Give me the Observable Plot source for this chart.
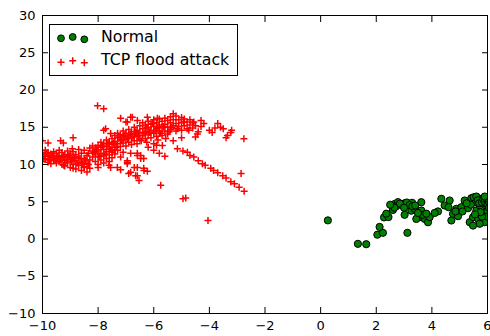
<!DOCTYPE html>
<html>
<head>
<meta charset="utf-8">
<script src="https://cdn.jsdelivr.net/npm/d3@7"></script>
<script src="https://cdn.jsdelivr.net/npm/@observablehq/plot@0.6"></script>
<style>
  html, body { margin: 0; padding: 0; background: white; }
  #wrap { position: relative; width: 490px; height: 336px; overflow: hidden; }
  #legend { position: absolute; left: 49px; top: 24px; width: 189px; height: 52px;
            border: 1px solid black; background: white; box-sizing: border-box;
            font-family: "DejaVu Sans", sans-serif; font-size: 15.8px; }
  #legend svg { position: absolute; left: 0; top: 0; }
  #legend .lab { position: absolute; left: 51px; white-space: nowrap; line-height: 1; }
</style>
</head>
<body>
<div id="wrap">
  <div id="chart"></div>
  <div id="legend">
    <svg width="40" height="50">
      <circle cx="11" cy="13.3" r="3.4" fill="#008000" stroke="black" stroke-width="1"/>
      <circle cx="22.7" cy="12" r="3.4" fill="#008000" stroke="black" stroke-width="1"/>
      <circle cx="34.3" cy="14.3" r="3.4" fill="#008000" stroke="black" stroke-width="1"/>
      <path d="M7.5,37.3h7M11,33.8v7M19.2,35.7h7M22.7,32.2v7M30.8,37.7h7M34.3,34.2v7" stroke="red" stroke-width="1.5" fill="none"/>
    </svg>
    <div class="lab" style="top:4px">Normal</div>
    <div class="lab" style="top:27px">TCP flood attack</div>
  </div>
</div>
<script>
const seriesNames = ["Normal", "TCP flood attack"];
const xTicks = [-10, -8, -6, -4, -2, 0, 2, 4, 6];
const yTicks = [-10, -5, 0, 5, 10, 15, 20, 25, 30];

const normal = [
  [0.26,2.5],[1.34,-0.65],[1.64,-0.7],[2.04,0.58],[2.24,0.83],[2.12,1.62],[3.12,0.83],
  [2.28,2.9],[2.44,2.95],[2.36,3.4],[2.6,3.9],[2.66,4.7],[2.78,4.95],[2.9,4.6],[2.96,4.5],
  [3.02,4.8],[3.1,4.9],[3.29,4.86],[3.2,4.55],[2.72,4.4],[2.85,4.75],[3.02,3.25],[3.26,3.8],
  [3.38,4.05],[3.62,4.94],[3.62,3.83],[3.56,2.93],[3.74,2.7],[3.86,2.25],[3.92,2.93],[3.44,2.7],
  [3.68,3.25],[3.5,3.5],[3.8,3.4],[4.22,3.7],[4.34,5.4],[4.46,4.5],[4.64,5.17],[4.6,4.27],
  [4.7,2.48],[4.76,3.38],[4.94,3.06],[4.88,4.05],[5.06,4.27],[5.18,5.17],[5.3,4.13],[5.36,2.26],
  [5.42,5.48],[5.54,4.94],[5.6,3.83],[5.48,2.93],[5.66,2.7],[5.72,4.5],[5.78,5.4],[5.84,3.38],
  [5.9,2.26],[5.96,4.27],[5.72,2.04],[5.48,1.8],[5.5,5.6],[5.6,5.7],[5.65,5.2],[5.7,4.8],
  [5.8,4.9],[5.85,5.3],[5.9,5.0],[5.95,5.5],[6.0,4.6],[6.0,3.8],[6.0,3.0],[5.8,3.0],[5.75,3.6],
  [5.55,3.3],[5.4,4.6],[5.25,4.8],[4.85,3.7],[4.1,3.5],[3.3,4.4],[2.65,4.2],[2.5,4.6],[3.0,4.2],
  [3.4,4.5],[5.9,5.7],[6.05,5.0],[6.05,4.2],[5.1,3.7]
];

const tcpFlood = [
  // dense left band
  [-10.0,11.0],[-10.0,11.6],[-10.0,10.4],[-9.9,11.3],[-9.9,10.7],[-9.9,11.9],[-9.8,11.1],[-9.8,10.3],
  [-9.8,11.6],[-9.7,10.9],[-9.7,11.4],[-9.7,10.1],[-9.6,11.7],[-9.6,10.6],[-9.6,11.1],[-9.5,10.2],
  [-9.5,11.5],[-9.5,10.8],[-9.4,11.9],[-9.4,10.4],[-9.4,11.2],[-9.3,10.0],[-9.3,10.9],[-9.3,11.6],
  [-9.2,10.5],[-9.2,11.3],[-9.2,9.8],[-9.1,11.8],[-9.1,10.2],[-9.1,11.0],[-9.0,10.7],[-9.0,9.6],
  [-9.0,11.4],[-8.9,10.0],[-8.9,11.7],[-8.9,10.9],[-8.8,9.4],[-8.8,10.5],[-8.8,11.3],[-8.7,9.9],
  [-8.7,11.0],[-8.7,12.0],[-8.6,9.2],[-8.6,10.3],[-8.6,11.5],[-8.5,9.7],[-8.5,10.8],[-8.5,11.9],
  [-8.4,9.0],[-8.4,10.1],[-8.4,11.2],[-8.3,9.5],[-8.3,10.6],[-8.3,12.2],
  [-9.95,10.8],[-9.85,11.5],[-9.75,10.6],[-9.65,11.2],[-9.55,10.5],[-9.45,11.0],[-9.35,10.6],
  [-9.25,11.1],[-9.15,10.6],[-9.05,11.2],[-8.95,10.4],[-8.85,11.0],[-8.75,10.2],[-8.65,10.8],
  [-8.55,10.1],[-8.45,10.6],[-8.35,11.5],[-8.35,10.0],
  [-9.24,9.9],[-8.9,9.5],[-8.5,9.6],[-8.0,9.6],
  // isolated left points
  [-10.0,13.2],[-9.8,12.9],[-9.35,13.2],[-9.25,12.9],[-8.9,13.6],[-8.93,12.1],
  // rising band
  [-8.2,11.0],[-8.2,11.8],[-8.2,12.5],[-8.1,10.4],[-8.1,11.4],[-8.1,12.2],[-8.0,10.0],[-8.0,11.0],
  [-8.0,11.8],[-8.0,12.6],[-7.9,10.6],[-7.9,11.5],[-7.9,12.3],[-7.9,13.0],[-7.8,10.2],[-7.8,11.2],
  [-7.8,12.0],[-7.8,12.8],[-7.7,10.8],[-7.7,11.7],[-7.7,12.5],[-7.7,13.3],[-7.6,11.3],[-7.6,12.2],
  [-7.6,13.0],[-7.6,10.4],[-7.5,11.8],[-7.5,12.7],[-7.5,13.5],[-7.5,10.9],[-7.4,12.3],[-7.4,13.1],
  [-7.4,13.9],[-7.4,11.4],[-7.3,12.8],[-7.3,13.6],[-7.3,14.2],[-7.3,11.9],[-7.2,12.4],[-7.2,13.3],
  [-7.2,14.0],[-7.1,12.9],[-7.1,13.7],[-7.1,14.5],[-7.0,12.5],[-7.0,13.4],[-7.0,14.2],[-6.9,13.0],
  [-6.9,13.9],[-6.9,14.7],[-6.8,12.7],[-6.8,13.6],[-6.8,14.4],[-6.7,13.2],[-6.7,14.1],[-6.7,15.0],
  [-6.6,12.8],[-6.6,13.8],[-6.6,14.6],[-6.5,13.4],[-6.5,14.3],[-6.5,15.2],
  [-8.15,11.6],[-8.05,12.0],[-7.95,11.1],[-7.85,12.4],[-7.75,11.4],[-7.65,12.8],[-7.55,12.0],
  [-7.45,12.9],[-7.35,12.3],[-7.25,13.7],[-7.15,13.2],[-7.05,13.9],[-6.95,13.5],[-6.85,14.1],
  [-6.75,13.7],[-6.65,14.4],[-6.55,13.9],
  [-7.8,14.6],[-7.55,14.15],[-7.73,14.8],
  // top of cluster
  [-8.02,17.9],[-7.8,17.5],[-7.19,16.2],[-6.95,15.7],[-6.83,16.35],[-6.59,15.9],[-6.23,16.35],
  [-5.87,16.2],[-6.77,16.35],[-7.0,15.7],
  // upper region
  [-6.4,13.9],[-6.4,14.8],[-6.4,15.6],[-6.3,13.5],[-6.3,14.4],[-6.3,15.3],[-6.2,14.0],[-6.2,14.9],
  [-6.2,15.8],[-6.1,13.6],[-6.1,14.6],[-6.1,15.4],[-6.0,14.2],[-6.0,15.1],[-6.0,16.0],[-5.9,13.8],
  [-5.9,14.8],[-5.9,15.6],[-5.8,14.4],[-5.8,15.3],[-5.8,16.1],[-5.7,13.9],[-5.7,14.9],[-5.7,15.8],
  [-5.6,14.5],[-5.6,15.4],[-5.6,16.2],[-5.5,14.1],[-5.5,15.0],[-5.5,15.9],[-5.4,14.7],[-5.4,15.6],
  [-5.4,16.4],[-5.3,15.2],[-5.3,16.0],[-5.3,16.8],[-5.2,14.5],[-5.2,15.5],[-5.2,16.5],[-5.1,15.1],
  [-5.1,16.0],[-5.0,14.6],[-5.0,15.6],[-5.0,16.3],[-4.9,15.2],[-4.9,16.1],[-4.8,14.8],[-4.8,15.7],
  [-4.7,15.3],[-4.7,16.0],[-4.6,14.9],[-4.6,15.6],[-4.5,15.2],[-6.0,12.8],[-5.69,12.55],
  [-5.57,13.5],[-5.3,13.2],[-5.0,13.6],[-4.74,14.6],[-4.43,14.1],
  [-6.35,14.2],[-6.25,15.0],[-6.15,14.3],[-6.05,15.5],[-5.95,14.5],[-5.85,15.0],[-5.75,14.2],
  [-5.65,15.1],[-5.45,14.4],[-5.35,15.0],[-5.15,14.8],[-6.45,13.2],[-6.25,13.0],[-5.85,13.3],
  // sparse upper right
  [-4.56,15.7],[-4.3,15.9],[-4.2,15.5],[-3.7,15.5],[-3.6,15.0],[-3.9,14.3],[-3.35,13.9],[-3.23,14.3],
  [-4.92,15.7],[-4.4,14.4],[-4.3,15.1],[-4.0,14.6],[-3.8,14.9],[-3.5,14.8],[-3.4,13.6],[-3.2,14.6],
  [-4.5,13.7],[-2.76,13.45],
  // long descending line
  [-5.15,12.1],[-4.95,11.8],[-4.79,11.65],[-4.7,11.2],[-4.56,11.0],[-4.4,10.5],[-4.25,10.1],
  [-4.15,9.9],[-3.95,9.5],[-3.85,9.2],[-3.7,8.9],[-3.52,8.5],[-3.4,8.2],[-3.23,7.7],[-3.1,7.4],
  [-2.93,6.95],[-2.75,6.4],[-2.86,8.8],
  // lower lines from the band
  [-7.49,11.65],[-7.19,11.0],[-6.95,10.5],[-6.59,11.2],[-6.47,10.8],[-7.61,9.9],[-7.31,9.6],
  [-6.95,10.1],[-6.9,8.8],[-6.59,9.6],[-6.65,8.5],[-6.53,7.85],[-6.36,9.5],[-7.55,9.6],
  [-7.19,9.3],[-6.83,8.97],[-6.59,8.5],[-6.35,9.2],[-6.23,9.1],[-6.7,9.6],[-6.95,10.3],
  [-6.59,11.5],[-6.36,10.8],[-7.4,11.9],[-7.1,11.65],[-6.83,11.5],[-6.47,11.2],
  [-6.2,12.3],[-6.0,11.9],[-5.8,11.5],[-5.6,11.1],[-5.9,12.6],
  // outliers
  [-5.75,7.2],[-4.95,5.4],[-4.85,5.5],[-4.05,2.5]
];

const normalData = normal.map(([x, y]) => ({x, y}));
const tcpData = tcpFlood.map(([x, y]) => ({x, y}));

const plusSymbol = {
  draw(context, size) {
    const r = Math.sqrt(size / Math.PI);
    context.moveTo(-r, 0); context.lineTo(r, 0);
    context.moveTo(0, -r); context.lineTo(0, r);
  }
};
const fmt = d3.format("d");

const chart = Plot.plot({
  width: 490, height: 336,
  marginLeft: 42, marginRight: 3, marginTop: 15, marginBottom: 23,
  style: {fontFamily: "DejaVu Sans, sans-serif", fontSize: "13px", background: "white", color: "black"},
  x: {domain: [-10, 6]},
  y: {domain: [-10, 30]},
  marks: [
    Plot.dot(normalData, {x: "x", y: "y", r: 3.6, fill: "#008000", stroke: "black", strokeWidth: 1, clip: true}),
    Plot.dot(tcpData, {x: "x", y: "y", r: 3.5, symbol: plusSymbol, fill: "none", stroke: "red", strokeWidth: 1.5, clip: true}),
    Plot.frame({stroke: "black", strokeWidth: 1}),
    Plot.axisX({ticks: xTicks, tickSize: -6, tickPadding: 13, tickFormat: fmt, label: null}),
    Plot.axisX({anchor: "top", ticks: xTicks, tickSize: -6, tickFormat: () => "", label: null}),
    Plot.axisY({ticks: yTicks, tickSize: -6, tickPadding: 13, tickFormat: fmt, label: null}),
    Plot.axisY({anchor: "right", ticks: yTicks, tickSize: -6, tickFormat: () => "", label: null})
  ]
});
document.getElementById("chart").appendChild(chart);
</script>
</body>
</html>
